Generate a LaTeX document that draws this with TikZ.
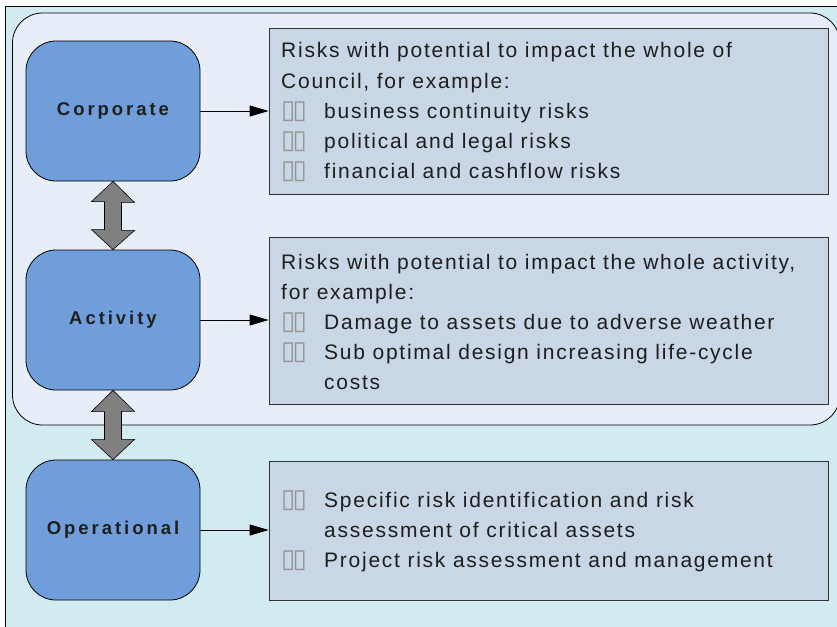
\documentclass[tikz,border=0pt]{standalone}
\usepackage{fontspec}
\setmainfont{Liberation Sans}[LetterSpace=8.3]
\newfontfamily\lblfont{Liberation Sans}[LetterSpace=16]
\newfontfamily\dejavu{DejaVu Sans}
\usetikzlibrary{arrows.meta}
\definecolor{outerbg}{RGB}{210,235,240}
\definecolor{innerbg}{RGB}{231,238,248}
\definecolor{tboxbg}{RGB}{200,214,230}
\definecolor{blkblue}{RGB}{111,158,219}
\definecolor{arrgray}{RGB}{128,128,128}
\definecolor{bulgray}{RGB}{150,150,150}
\definecolor{txt}{RGB}{30,30,30}
\newcommand\bul{\makebox[43pt][l]{\textcolor{bulgray}{\dejavu\fontsize{26}{26}\selectfont ▯\kern-3pt▯}}}
\newcommand\cont{\hspace*{43pt}}
\tikzset{
  blk/.style={draw=black, line width=0.8pt, fill=blkblue, rounded corners=30pt,
    minimum width=174pt, minimum height=140pt, inner sep=0pt,
    font=\lblfont\bfseries\fontsize{18.5}{20}\selectfont, text=txt},
  tbox/.style={draw=black!80, line width=0.8pt, fill=tboxbg, minimum width=559pt, inner sep=0pt},
  body/.style={anchor=base west, inner sep=0pt, text=txt, font=\fontsize{21}{30}\selectfont},
  conn/.style={draw=black, line width=0.8pt, -{Triangle[length=19pt,width=11pt]}},
  dbl/.style={draw=black, line width=0.6pt, fill=arrgray, line join=miter}
}
\begin{document}
\begin{tikzpicture}[x=1pt, y={(0pt,-1pt)}]
\clip (0,0) rectangle (837,626);
\fill[white] (0,0) rectangle (837,626);
% outer frame
\fill[outerbg] (5.5,6.5) rectangle (850,640);
\draw[line width=0.8pt] (5.5,640) -- (5.5,6.5) -- (850,6.5);
% inner rounded area
\draw[fill=innerbg, line width=0.8pt, rounded corners=30pt] (12.5,13) rectangle (840,425);
% level boxes
\node[blk] (corp) at (113,111) {Corporate};
\node[blk] (act) at (113,320) {Activity};
\node[blk] (oper) at (113,530) {Operational};
% text boxes
\node[tbox, minimum height=166pt] (t1) at (548.5,111) {};
\node[tbox, minimum height=167pt] (t2) at (548.5,320.5) {};
\node[tbox, minimum height=139pt] (t3) at (548.5,530.5) {};
% connectors
\draw[conn] (corp.east) -- (corp.east -| t1.west);
\draw[conn] (act.east) -- (act.east -| t2.west);
\draw[conn] (oper.east) -- (oper.east -| t3.west);
% double arrows
\draw[dbl] (corp.south) -- ++(21.5,21) -- ++(-13,0) -- ++(0,28) -- ++(13,0) -- (act.north)
  -- ++(-21.5,-20) -- ++(13,0) -- ++(0,-28) -- ++(-13,0) -- cycle;
\draw[dbl] (act.south) -- ++(21.5,21) -- ++(-13,0) -- ++(0,28) -- ++(13,0) -- (oper.north)
  -- ++(-21.5,-20) -- ++(13,0) -- ++(0,-28) -- ++(-13,0) -- cycle;
% texts
\node[body] (x1) at (281,58) {\begin{tabular}[t]{@{}l@{}}
Risks with potential to impact the whole of\\
Council, for example:\\
\bul business continuity risks\\
\bul political and legal risks\\
\bul financial and cashflow risks
\end{tabular}};
\node[body] (x2) at (281,269) {\begin{tabular}[t]{@{}l@{}}
Risks with potential to impact the whole activity,\\
for example:\\
\bul Damage to assets due to adverse weather\\
\bul Sub optimal design increasing life-cycle\\
\cont costs
\end{tabular}};
\node[body] (x3) at (281,507) {\begin{tabular}[t]{@{}l@{}}
\bul Specific risk identification and risk\\
\cont assessment of critical assets\\
\bul Project risk assessment and management
\end{tabular}};
\end{tikzpicture}
\end{document}
